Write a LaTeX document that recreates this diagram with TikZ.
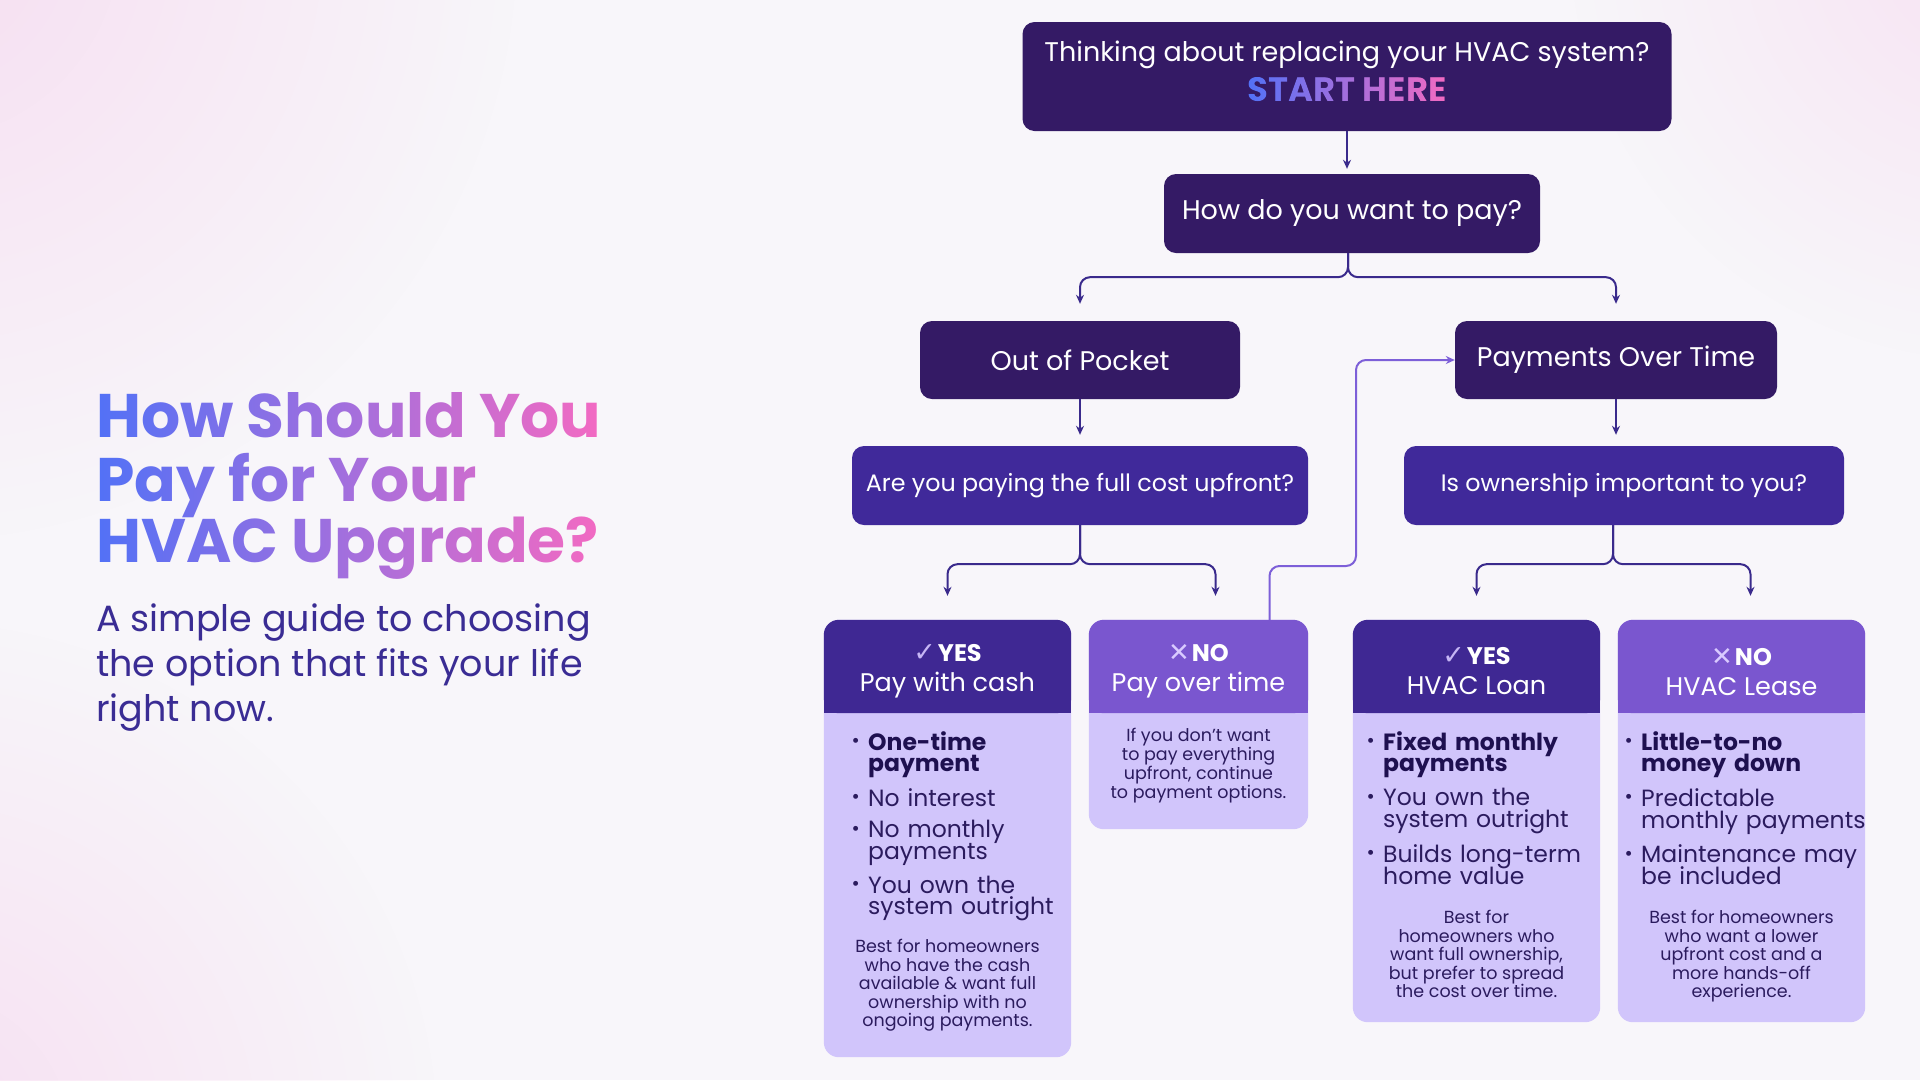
\documentclass[tikz,border=0pt]{standalone}
\usepackage{fontspec}
\setmainfont{Poppins}
\newfontfamily\symfont{DejaVu Sans}
\usetikzlibrary{arrows.meta, positioning, backgrounds, fadings}

\definecolor{pagebg}{HTML}{F8F6FA}
\definecolor{glow}{HTML}{F6D6EE}
\definecolor{deepbox}{HTML}{341A65}
\definecolor{askfill}{HTML}{40299A}
\definecolor{yesfill}{HTML}{3F2893}
\definecolor{nofill}{HTML}{7A56CF}
\definecolor{cardfill}{HTML}{D1C5FB}
\definecolor{cardink}{HTML}{2B1B5E}
\definecolor{boldink}{HTML}{1E1050}
\definecolor{wire}{HTML}{3A2A8C}
\definecolor{wirelight}{HTML}{7D5FD8}
\definecolor{subink}{HTML}{3A2C94}
\definecolor{tick}{HTML}{C6B6F5}
\definecolor{cross}{HTML}{D9CAFF}
\definecolor{gradA}{HTML}{5271F6}
\definecolor{gradB}{HTML}{A46FDD}
\definecolor{gradC}{HTML}{F36AC2}

\newcommand{\titlefont}{\normalfont\bfseries\fontsize{61.5}{62}\selectfont}
\newcommand{\titletext}{\begin{tabular}{@{}l@{}}How Should You\\[-3pt]Pay for Your\\[-3pt]HVAC Upgrade?\end{tabular}}
\newcommand{\startfont}{\normalfont\bfseries\fontsize{34}{36}\selectfont}
\newcommand{\bul}[1]{\noindent\makebox[17pt][l]{\hspace{.5pt}\raisebox{2.5pt}{\scalebox{.85}{\textbullet}}}\parbox[t]{240pt}{\raggedright\setlength{\lineskiplimit}{-9pt}\leavevmode#1}\par\vspace{9.5pt}}
\newcommand{\yes}{{\fontsize{24}{30}\selectfont{\symfont\fontsize{27}{30}\selectfont\color{tick}✓}\hspace{2pt}\textbf{YES}}}
\newcommand{\no}{{\fontsize{24}{30}\selectfont{\symfont\fontsize{26}{30}\selectfont\color{cross}✕}\hspace{2pt}\textbf{NO}}}

% masks for the two gradient texts and the soft corner glow
\pgfdeclarefading{titlefade}{\color{white}\titlefont\titletext}
\pgfdeclarefading{startfade}{\color{white}\startfont START HERE}
\tikzfading[name=glowfade, inner color=transparent!0, outer color=transparent!100]

\tikzset{
  mainbox/.style={fill=deepbox, rounded corners=12pt, text=white, inner sep=0pt, align=center, font=\fontsize{27}{30}\selectfont},
  askbox/.style={mainbox, fill=askfill, font=\fontsize{23.8}{26}\selectfont},
  hdrbox/.style={inner sep=0pt, minimum height=93pt},
  hdrtext/.style={text=white, inner sep=0pt, align=center, font=\fontsize{25.5}{30}\selectfont},
  cardlist/.style={anchor=north west, inner sep=0pt, text width=260pt, text=cardink, font=\fontsize{23.5}{21.7}\selectfont},
  cardnote/.style={anchor=north, inner sep=0pt, align=center, text=cardink, font=\fontsize{17.5}{18.5}\selectfont},
  subline/.style={anchor=north west, inner sep=0pt, align=left, text=subink, font=\fontsize{36.5}{45}\selectfont},
  conn/.style={draw=wire, line width=2pt, rounded corners=10pt, ->},
  backlink/.style={conn, draw=wirelight}
}

\begin{document}
\begin{tikzpicture}[x=1pt, y=-1pt, >={Stealth[length=9pt,width=8pt]}]
  \useasboundingbox (0,0) rectangle (1920,1080);
  \begin{scope}[on background layer]
    \fill[pagebg] (0,0) rectangle (1920,1080);
    \fill[glow, opacity=.75, path fading=glowfade] (-80,-60) circle (600);
    \fill[glow, opacity=.7, path fading=glowfade] (-80,1140) circle (520);
    \fill[glow, opacity=.6, path fading=glowfade] (1990,-60) circle (420);
  \end{scope}

  % headline and subtitle
  \node[inner sep=0pt, anchor=north west, text opacity=0] (title) at (96,392) {\titlefont\titletext};
  \begin{scope}
    \pgfsetfading{titlefade}{\pgftransformshift{\pgfpointanchor{title}{center}}}
    \shade[left color=gradA, right color=gradC, middle color=gradB] (title.south west) rectangle (title.north east);
  \end{scope}
  \node[subline] (sub) at (96,604) {A simple guide to choosing\\the option that fits your life\\right now.};

  % question boxes
  \node[mainbox, minimum width=649pt, minimum height=109pt] (start) at (1347,76.5) {};
  \node[text=white, font=\fontsize{27}{30}\selectfont] (think) at (1347,55) {Thinking about replacing your HVAC system?};
  \node[inner sep=0pt, text opacity=0, font=\startfont] (starthere) at (1347,90) {START HERE};
  \begin{scope}
    \pgfsetfading{startfade}{\pgftransformshift{\pgfpointanchor{starthere}{center}}}
    \shade[left color=gradA, right color=gradC, middle color=gradB] (starthere.south west) rectangle (starthere.north east);
  \end{scope}
  \node[mainbox, minimum width=376pt, minimum height=79pt] (how) at (1352,213.5) {How do you want to pay?};
  \node[mainbox, minimum width=320pt, minimum height=78pt] (pock) at (1080,360) {Out of Pocket};
  \node[mainbox, minimum width=322pt, minimum height=78pt] (pot) at (1616,360) {Payments Over Time};
  \node[askbox, minimum width=456pt, minimum height=79pt] (q1) at (1080,485.5) {Are you paying the full cost upfront?};
  \node[askbox, minimum width=440pt, minimum height=79pt] (q2) at (1624,485.5) {Is ownership important to you?};

  % card headers
  \node[hdrbox, minimum width=247pt] (c1h) at (947.5,666.5) {};
  \node[hdrbox, minimum width=219pt] (c2h) at (1198.5,666.5) {};
  \node[hdrbox, minimum width=247pt] (c3h) at (1476.5,666.5) {};
  \node[hdrbox, minimum width=247pt] (c4h) at (1741.5,666.5) {};
  \node[hdrtext] (c1t) at ([yshift=-5pt]c1h) {\yes\\Pay with cash};
  \node[hdrtext] (c2t) at ([yshift=-5pt]c2h) {\no\\Pay over time};
  \node[hdrtext] (c3t) at ([yshift=-5pt]c3h) {\yes\\HVAC Loan};
  \node[hdrtext] (c4t) at ([yshift=-6pt]c4h) {\no\\HVAC Lease};

  % card bodies
  \node[cardlist] (c1b) at (851,731) {\bul{\bfseries\color{boldink}One-time\\payment}\bul{No interest}\bul{No monthly\\payments}\bul{You own the\\system outright}};
  \node[cardnote] (c1n) at (947.5,939) {Best for homeowners\\who have the cash\\available \& want full\\ownership with no\\ongoing payments.};
  \node[cardnote, font=\fontsize{17.5}{19}\selectfont] (c2n) at (1198.5,728) {If you don’t want\\to pay everything\\upfront, continue\\to payment options.};
  \node[cardlist] (c3b) at (1366,731) {\bul{\bfseries\color{boldink}Fixed monthly\\payments}\bul{You own the\\system outright}\bul{Builds long-term\\home value}};
  \node[cardnote] (c3n) at (1476.5,910) {Best for\\homeowners who\\want full ownership,\\but prefer to spread\\the cost over time.};
  \node[cardlist] (c4b) at (1624,731) {\bul{\bfseries\color{boldink}Little-to-no\\money down}\bul{Predictable\\monthly payments}\bul{Maintenance may\\be included}};
  \node[cardnote] (c4n) at (1741.5,910) {Best for homeowners\\who want a lower\\upfront cost and a\\more hands-off\\experience.};

  \begin{scope}[on background layer]
    \foreach \nm/\dep/\hc in {c1/344/yesfill, c2/116/nofill, c3/309/yesfill, c4/309/nofill}{
      \fill[cardfill, rounded corners=15pt] (\nm h.north west) rectangle ([yshift=-\dep pt]\nm h.south east);
      \fill[\hc, rounded corners=15pt] (\nm h.north west) rectangle (\nm h.south east);
      \fill[\hc] (\nm h.west) rectangle (\nm h.south east);
    }
  \end{scope}

  % connectors
  \draw[conn, shorten >=5pt] (start.south) -- (start.south |- how.north);
  \draw[conn, shorten >=17pt] ([xshift=-4pt]how.south) -- ++(0,24) -| (pock.north);
  \draw[conn, shorten >=17pt] ([xshift=-4pt]how.south) -- ++(0,24) -| (pot.north);
  \draw[conn, shorten >=11pt] (pock) -- (q1);
  \draw[conn, shorten >=11pt] (pot.south) -- (pot.south |- q2.north);
  \draw[conn, shorten >=24pt] (q1.south) -- ++(0,39) -| (c1h.north);
  \draw[conn, shorten >=24pt] (q1.south) -- ++(0,39) -| ([xshift=17pt]c2h.north);
  \draw[conn, shorten >=24pt] ([xshift=-11pt]q2.south) -- ++(0,39) -| (c3h.north);
  \draw[conn, shorten >=24pt] ([xshift=-11pt]q2.south) -- ++(0,39) -| ([xshift=9pt]c4h.north);
  \coordinate (jog) at (1356,566);
  \draw[backlink] ([xshift=71pt]c2h.north) |- (jog) |- (pot.west);
\end{tikzpicture}
\end{document}
